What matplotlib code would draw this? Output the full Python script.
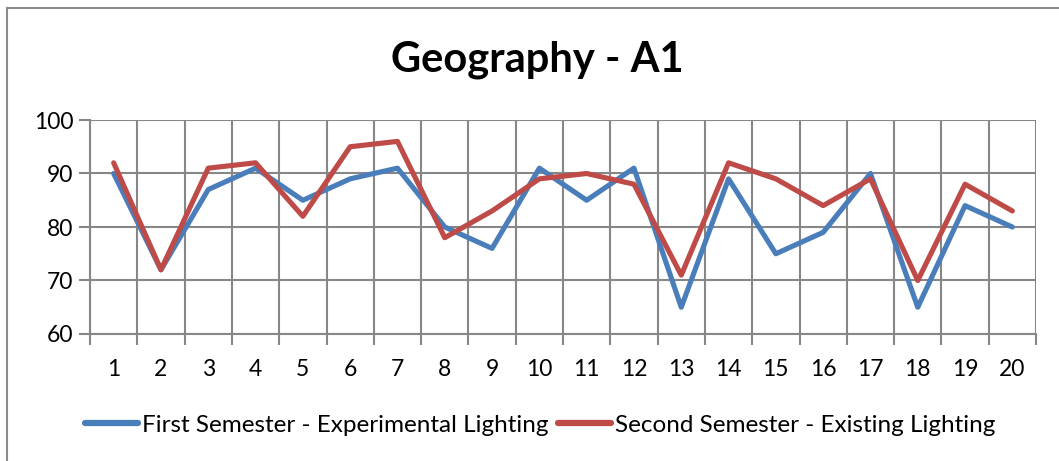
import numpy as np
import matplotlib
matplotlib.use("Agg")
import matplotlib.pyplot as plt
from matplotlib.lines import Line2D

plt.rcParams['font.family'] = ['Lato', 'DejaVu Sans']

students = list(range(1, 21))
first_sem = [90, 72, 87, 91, 85, 89, 91, 80, 76, 91, 85, 91, 65, 89, 75, 79, 90, 65, 84, 80]
second_sem = [92, 72, 91, 92, 82, 95, 96, 78, 83, 89, 90, 88, 71, 92, 89, 84, 89, 70, 88, 83]
labels = ["First Semester - Experimental Lighting", "Second Semester - Existing Lighting"]

blue = "#4A7EBB"
red = "#BE4B48"
grid_c = "#878787"

W, H = 1059, 461
fig = plt.figure(figsize=(W / 100, H / 100), dpi=100)
ax = fig.add_axes([90 / W, 1 - 334 / H, (1036 - 90) / W, (334 - 120) / H])

ax.plot(students, first_sem, color=blue, lw=3.7, solid_capstyle='round', zorder=3)
ax.plot(students, second_sem, color=red, lw=3.7, solid_capstyle='round', zorder=4)

ax.set_xlim(0.5, 20.5)
ax.set_ylim(60, 100)
ax.set_yticks(range(60, 101, 10))
ax.set_xticks(students)
ax.set_xticks(np.arange(0.5, 21, 1), minor=True)
ax.tick_params(axis='x', which='major', length=0, pad=18, labelsize=16.5)
ax.tick_params(axis='x', which='minor', length=8, width=1.5, color=grid_c)
ax.tick_params(axis='y', length=8, width=1.5, color=grid_c, pad=4, labelsize=16.5)
ax.grid(True, axis='y', color=grid_c, lw=1.5)
ax.grid(True, axis='x', which='minor', color=grid_c, lw=1.5)
for s in ['top', 'right']:
    ax.spines[s].set_visible(False)
for s in ['left', 'bottom']:
    ax.spines[s].set_color(grid_c)
    ax.spines[s].set_linewidth(1.5)
ax.set_axisbelow(True)

fig.text(537 / W, 1 - 60 / H, "Geography - A1", ha='center', va='center',
         fontsize=30, fontweight='bold')

handles = [Line2D([], [], color=blue, lw=4.5, solid_capstyle='round'),
           Line2D([], [], color=red, lw=4.5, solid_capstyle='round')]
fig.legend(handles, labels, loc='center', bbox_to_anchor=(540 / W, 1 - 425 / H),
           ncol=2, frameon=False, fontsize=17.5, handlelength=2.2, handletextpad=0.15,
           columnspacing=0.4)

# chart border (left and top visible)
fig.add_artist(Line2D([7 / W, 7 / W], [0, 1 - 8 / H], color='#8c8c8c', lw=1.5))
fig.add_artist(Line2D([7 / W, 1], [1 - 8 / H, 1 - 8 / H], color='#8c8c8c', lw=1.5))

fig.savefig("out.png", dpi=100)
